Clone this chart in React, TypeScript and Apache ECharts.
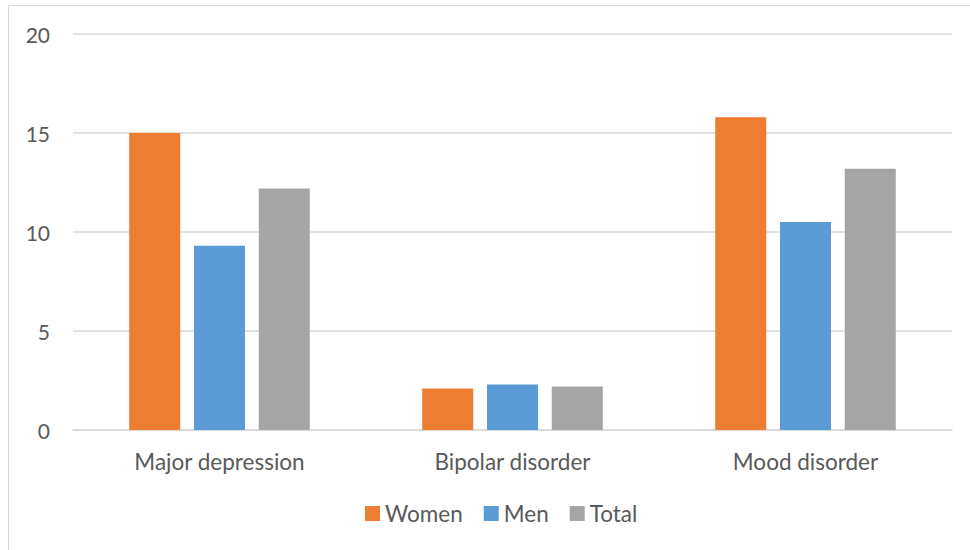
import React, { useEffect, useRef } from "react";
import * as echarts from "echarts";

const categories = ["Major depression", "Bipolar disorder", "Mood disorder"];
const women = [15.0, 2.1, 15.8];
const men = [9.3, 2.3, 10.5];
const total = [12.2, 2.2, 13.2];
const seriesNames = ["Women", "Men", "Total"];
const colors = ["#ED7D31", "#5B9BD5", "#A5A5A5"];

const FONT = "Lato, sans-serif";

export default function App() {
  const ref = useRef<HTMLDivElement>(null);
  useEffect(() => {
    if (!ref.current) return;
    const chart = echarts.init(ref.current, null, { renderer: "svg" });
    const data = [women, men, total];
    chart.setOption({
      animation: false,
      backgroundColor: "#ffffff",
      graphic: [
        {
          type: "rect",
          shape: { x: 8.5, y: 5.5, width: 1000, height: 1000 },
          style: { fill: "none", stroke: "#d9d9d9", lineWidth: 1 },
          silent: true,
        },
      ],
      grid: { left: 73, right: 18, top: 34, bottom: 120, containLabel: false },
      legend: {
        bottom: 25,
        left: 365,
        padding: 0,
        itemWidth: 15,
        itemHeight: 15,
        itemGap: 21,
        icon: "rect",
        textStyle: { color: "#595959", fontSize: 22.5, fontFamily: FONT },
        data: seriesNames,
      },
      xAxis: {
        type: "category",
        data: categories,
        axisLine: { lineStyle: { color: "#d9d9d9", width: 1.5 } },
        axisTick: { show: false },
        axisLabel: { color: "#595959", fontSize: 22.5, fontFamily: FONT, margin: 20 },
      },
      yAxis: {
        type: "value",
        min: 0,
        max: 20,
        interval: 5,
        axisLine: { show: false },
        axisTick: { show: false },
        splitLine: { lineStyle: { color: "#d9d9d9", width: 1.5 } },
        axisLabel: { color: "#595959", fontSize: 21, fontFamily: FONT, margin: 23 },
      },
      series: seriesNames.map((name, i) => ({
        name,
        type: "bar",
        data: data[i],
        barWidth: 51,
        barGap: "27%",
        itemStyle: { color: colors[i] },
      })),
    });
    return () => chart.dispose();
  }, []);
  return (
    <div
      ref={ref}
      style={{ position: "fixed", left: 0, top: 0, width: 970, height: 550 }}
    />
  );
}
